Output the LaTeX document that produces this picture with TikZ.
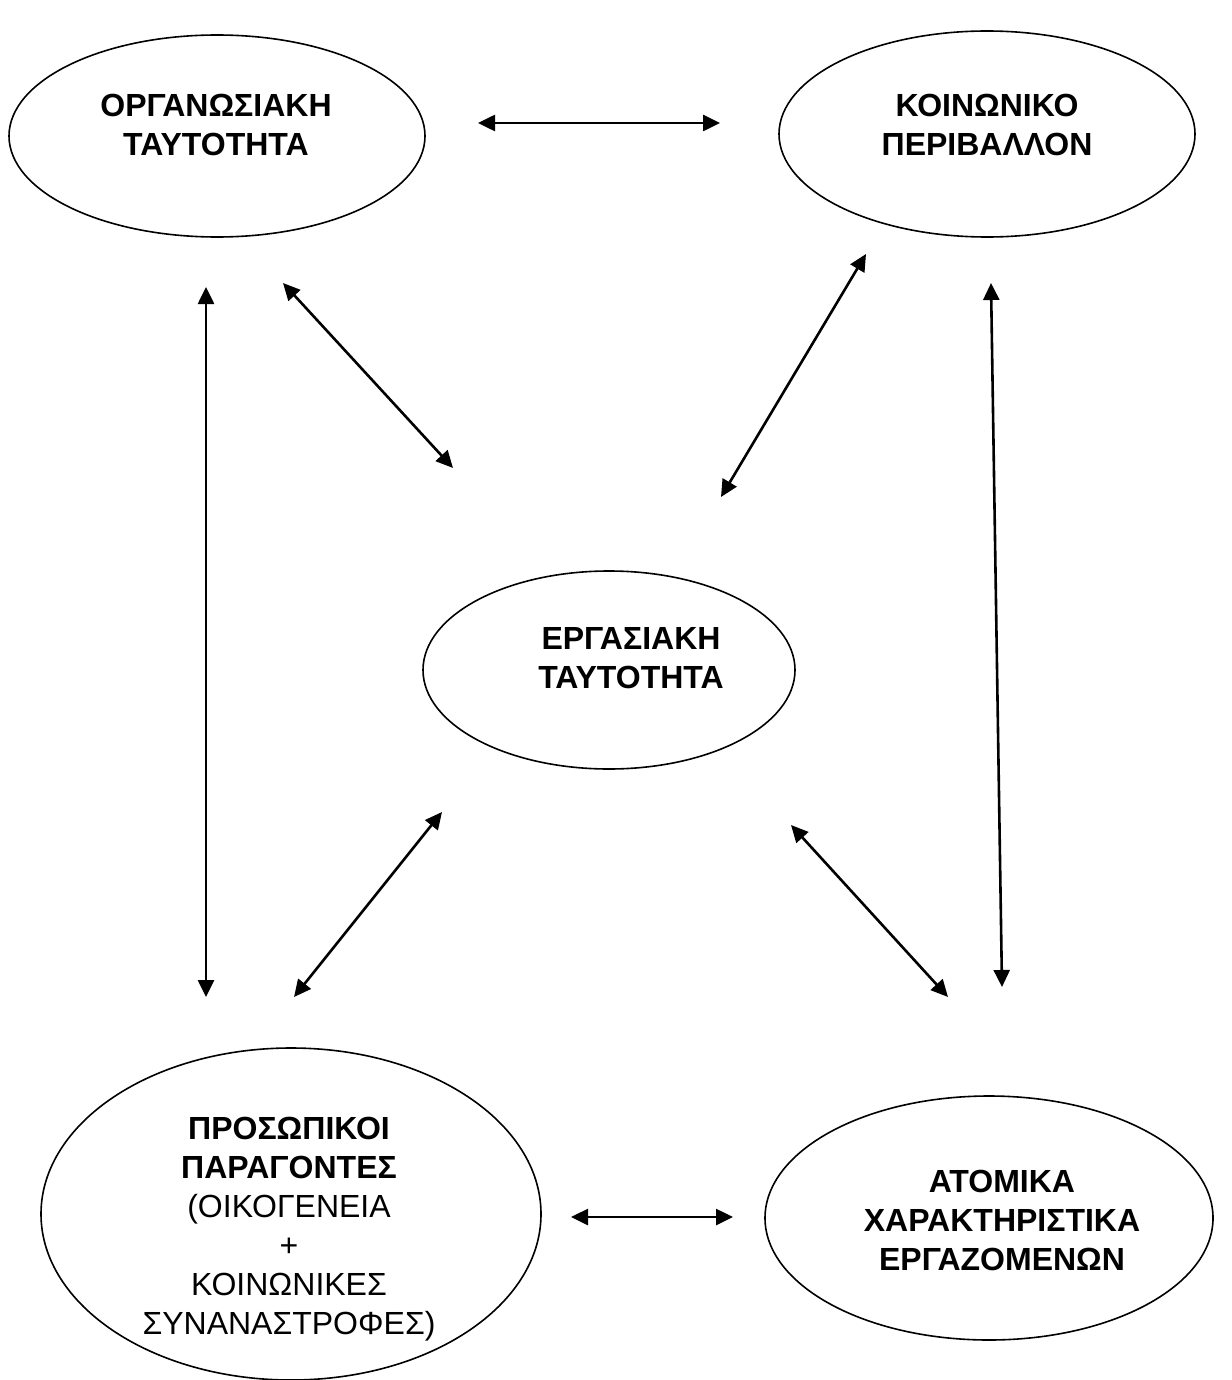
\documentclass[tikz,border=0pt]{standalone}
\usepackage{fontspec}
\setmainfont{Liberation Sans}
\usetikzlibrary{arrows.meta,shapes.geometric}
\begin{document}
\begin{tikzpicture}[x=1pt,y=-1pt,
  oval/.style={draw,ellipse,line width=1.6pt,inner sep=0pt},
  lbl/.style={align=center,anchor=base,inner sep=0pt,font=\fontsize{32}{39}\selectfont},
  link/.style={line width=2.6pt,{Triangle[length=17pt,width=16pt]}-{Triangle[length=17pt,width=16pt]}}]
\useasboundingbox (0,0) rectangle (1231,1380);

% ellipses
\node[oval,minimum width=416pt,minimum height=202pt] (org) at (217,136) {};
\node[oval,minimum width=416pt,minimum height=206pt] (soc) at (987,134) {};
\node[oval,minimum width=372pt,minimum height=198pt] (work) at (609,670) {};
\node[oval,minimum width=500pt,minimum height=332pt] (pers) at (291,1214) {};
\node[oval,minimum width=448pt,minimum height=244pt] (indiv) at (989,1218) {};

% labels (anchored at the baseline of the last line)
\node[lbl] (orgT) at (216,156) {\bfseries ΟΡΓΑΝΩΣΙΑΚΗ\\\bfseries ΤΑΥΤΟΤΗΤΑ};
\node[lbl] (socT) at (987,156) {\bfseries ΚΟΙΝΩΝΙΚΟ\\\bfseries ΠΕΡΙΒΑΛΛΟΝ};
\node[lbl] (workT) at (631,688) {\bfseries ΕΡΓΑΣΙΑΚΗ\\\bfseries ΤΑΥΤΟΤΗΤΑ};
\node[lbl] (persT) at (289,1334) {\bfseries ΠΡΟΣΩΠΙΚΟΙ\\\bfseries ΠΑΡΑΓΟΝΤΕΣ\\(ΟΙΚΟΓΕΝΕΙΑ\\+\\ΚΟΙΝΩΝΙΚΕΣ\\ΣΥΝΑΝΑΣΤΡΟΦΕΣ)};
\node[lbl] (indivT) at (1002,1270) {\bfseries ΑΤΟΜΙΚΑ\\\bfseries ΧΑΡΑΚΤΗΡΙΣΤΙΚΑ\\\bfseries ΕΡΓΑΖΟΜΕΝΩΝ};

% connector ends
\coordinate (t1a) at (478,123);  \coordinate (t1b) at (720,123);
\coordinate (t2a) at (206,287);  \coordinate (t2b) at (206,997);
\coordinate (t3a) at (283,283);  \coordinate (t3b) at (453,468);
\coordinate (t4a) at (866,254);  \coordinate (t4b) at (721,497);
\coordinate (t5a) at (991,283);  \coordinate (t5b) at (1002,987);
\coordinate (t6a) at (442,812);  \coordinate (t6b) at (294,997);
\coordinate (t7a) at (791,825);  \coordinate (t7b) at (948,997);
\coordinate (t8a) at (571,1217); \coordinate (t8b) at (733,1217);

% two-way arrows
\draw[link] (t1a) -- (t1b);
\draw[link] (t2a) -- (t2b);
\draw[link] (t3a) -- (t3b);
\draw[link] (t4a) -- (t4b);
\draw[link] (t5a) -- (t5b);
\draw[link] (t6a) -- (t6b);
\draw[link] (t7a) -- (t7b);
\draw[link] (t8a) -- (t8b);
\end{tikzpicture}
\end{document}
